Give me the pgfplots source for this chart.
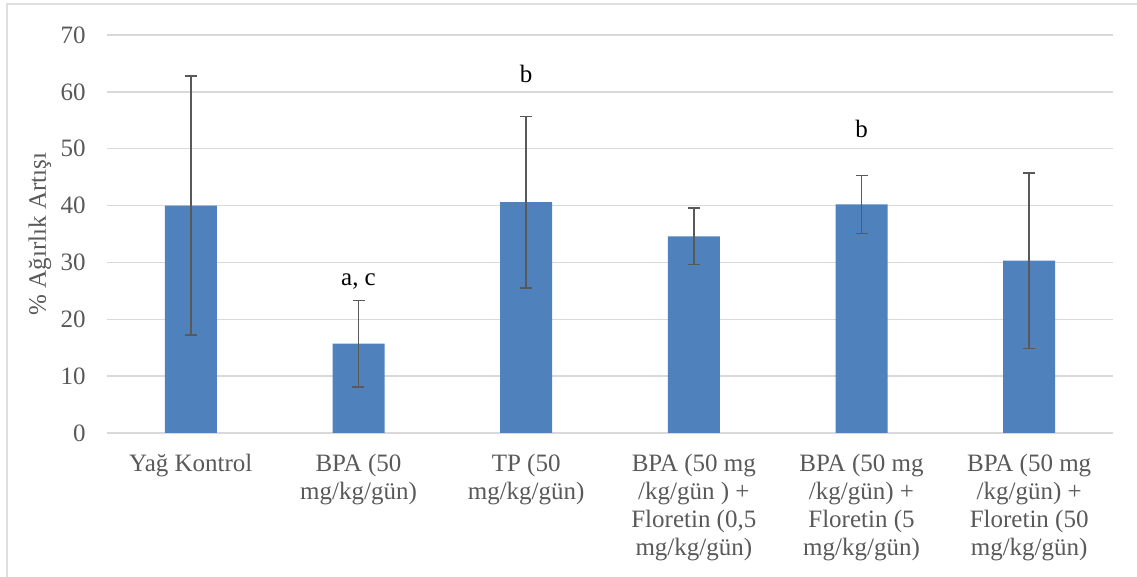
\documentclass[border=0pt]{standalone}
\usepackage{fontspec}
\setmainfont{Liberation Serif}
\usepackage{pgfplots}
\pgfplotsset{compat=1.18}
\definecolor{barBlue}{HTML}{4F81BD}
\definecolor{txtGray}{HTML}{595959}
\definecolor{gridGray}{HTML}{D9D9D9}
\definecolor{errGray}{HTML}{595959}

\begin{document}
\begin{tikzpicture}
\useasboundingbox (-53.5pt,-72pt) rectangle (515pt,216.5pt);
\draw[gray!25, line width=1pt] (-50pt,-90pt) -- (-50pt,214.5pt) -- (530pt,214.5pt);
\begin{axis}[
  scale only axis,
  width=503pt, height=199pt,
  xmin=-0.5, xmax=5.5,
  ymin=0, ymax=70,
  ytick={0,10,...,70},
  xtick={0,1,2,3,4,5},
  xticklabels={
    {Yağ Kontrol},
    {BPA (50\\mg/kg/gün)},
    {TP (50\\mg/kg/gün)},
    {BPA (50 mg\\/kg/gün ) +\\Floretin (0,5\\mg/kg/gün)},
    {BPA (50 mg\\/kg/gün) +\\Floretin (5\\mg/kg/gün)},
    {BPA (50 mg\\/kg/gün) +\\Floretin (50\\mg/kg/gün)}},
  axis line style={draw=none},
  major tick length=0pt,
  ymajorgrids,
  grid style={gridGray, line width=0.75pt},
  yticklabel style={font=\fontsize{12.5}{14}\selectfont, text=txtGray, anchor=east, inner sep=0pt, xshift=-10.5pt},
  xticklabel style={font=\fontsize{12.5}{14}\selectfont, text=txtGray, anchor=north, align=center, inner sep=0pt, yshift=-10.5pt},
  /pgf/number format/assume math mode=true,
  ylabel={\% Ağırlık Artışı},
  ylabel style={font=\fontsize{12.5}{14}\selectfont, text=txtGray, at={(axis description cs:-0.0666,0.5)}, anchor=center},
]
\addplot[ybar, bar width=26pt, fill=barBlue, draw=none,
  error bars/.cd, y dir=both, y explicit,
  error bar style={errGray, line width=0.75pt},
  error mark options={rotate=90, mark size=3pt, errGray, line width=0.75pt}]
  coordinates {
    (0,40.0) +- (0,22.8)
    (1,15.7) +- (0,7.6)
    (2,40.6) +- (0,15.1)
    (3,34.6) +- (0,5.0)
    (4,40.2) +- (0,5.1)
    (5,30.3) +- (0,15.4)
  };
\node[anchor=base, font=\fontsize{12.5}{14}\selectfont] at (axis cs:1,25.9) {a, c};
\node[anchor=base, font=\fontsize{12.5}{14}\selectfont] at (axis cs:2,61.7) {b};
\node[anchor=base, font=\fontsize{12.5}{14}\selectfont] at (axis cs:4,51.9) {b};
\end{axis}
\end{tikzpicture}
\end{document}
